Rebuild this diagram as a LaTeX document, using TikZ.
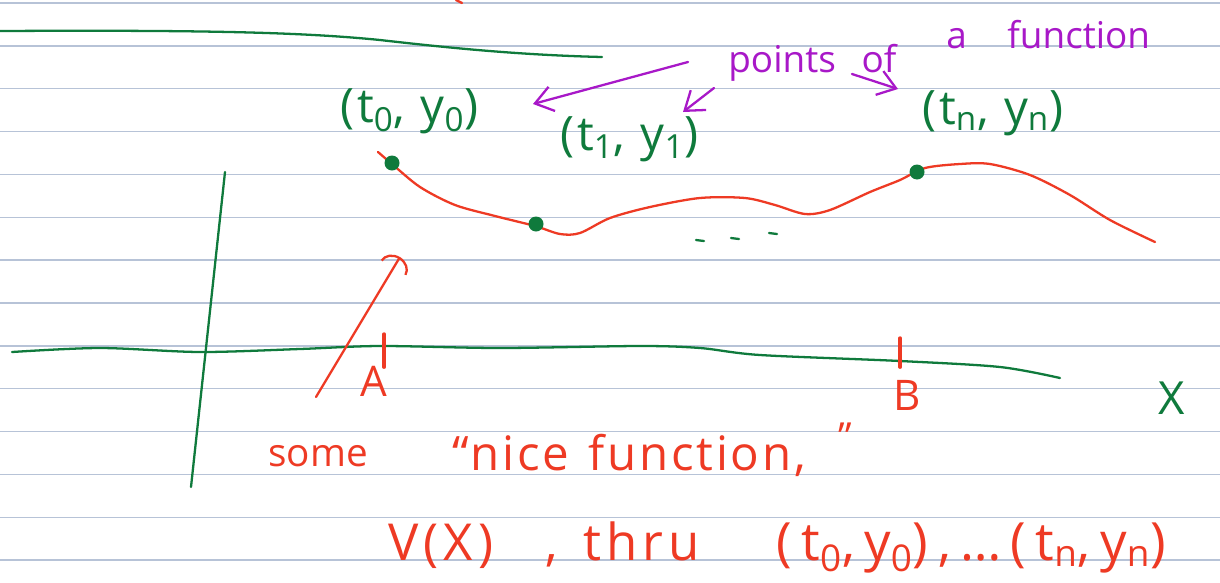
\documentclass[tikz,border=0pt]{standalone}
\usepackage{fontspec}
\setmainfont{Open Sans}
\usetikzlibrary{arrows.meta}
\definecolor{penGreen}{HTML}{0F7A3C}
\definecolor{penRed}{HTML}{EE3A24}
\definecolor{penPurple}{HTML}{A818C8}
\definecolor{ruling}{HTML}{B7C3D7}
\tikzset{
  hand/.style={inner sep=0pt, anchor=base west},
  stroke/.style={line width=1.3pt, line cap=round, line join=round},
}
\begin{document}
\begin{tikzpicture}[x=0.02cm, y={(0cm,-0.02cm)},
  gtxt/.style={hand, text=penGreen, font=\fontsize{27}{30}\selectfont\addfontfeature{LetterSpace=6}},
  ptxt/.style={hand, text=penPurple, font=\fontsize{21}{24}\selectfont},
  rtxt/.style={hand, text=penRed, font=\fontsize{22}{26}\selectfont},
  rbig/.style={rtxt, font=\fontsize{29}{32}\selectfont\addfontfeature{LetterSpace=10}},
  gline/.style={stroke, penGreen},
  rline/.style={stroke, penRed},
  parr/.style={stroke, penPurple, -{Straight Barb[length=3.5mm, width=5mm]}},
  dot/.style={circle, fill=penGreen, minimum size=0.3cm, inner sep=0pt}]
\useasboundingbox (0,0) rectangle (1220,582);
\fill[white] (0,0) rectangle (1220,582);
\foreach \k in {0,...,13}
  \draw[ruling, line width=0.8pt] (0,{3+42.85*\k}) -- (1220,{3+42.85*\k});
\draw[rline] (456,0) -- (462,3);
\draw[gline] (0,31) .. controls (200,30) and (300,32) .. (380,40) .. controls (450,48) and (520,55) .. (602,57);
\draw[gline] (225,172) -- (191,487);
\draw[gline] plot[smooth] coordinates {(12,352) (100,348) (200,352) (300,349) (380,346) (500,348) (640,346) (700,348) (760,355) (900,361) (1000,367) (1060,378)};
\draw[rline] plot[smooth] coordinates {(378,152) (392,164) (420,187) (455,205) (495,216) (535,226) (560,234) (580,233) (610,218) (650,207) (700,198) (745,198) (775,205) (805,214) (830,210) (870,192) (900,180) (925,168) (960,164) (990,164) (1030,175) (1070,195) (1110,220) (1155,242)};
\node[dot] (d0) at (392,163) {};
\node[dot] (d1) at (536,224) {};
\node[dot] (dn) at (917,172) {};
\foreach \x/\y in {700/240, 735/238, 773/233}
  \draw[gline] (\x-4,\y) -- (\x+4,\y+1);
\node[gtxt] (p0) at (340,122) {(t\textsubscript{0}, y\textsubscript{0})};
\node[gtxt] (p1) at (560,150) {(t\textsubscript{1}, y\textsubscript{1})};
\node[gtxt] (pn) at (922,124) {(t\textsubscript{n}, y\textsubscript{n})};
\node[ptxt] (pts) at (728,72) {points\hspace{0.7em}of};
\node[ptxt] (fn) at (946,48) {a\hspace{1.1em}function};
\coordinate (a0s) at (688,62);
\coordinate (a0e) at (533,104);
\coordinate (a1s) at (714,88);
\coordinate (a1e) at (683,112);
\coordinate (a2s) at (852,74);
\coordinate (a2e) at (898,89);
\draw[parr] (a0s) -- (a0e);
\draw[parr] (a1s) -- (a1e);
\draw[parr] (a2s) -- (a2e);
\node[rtxt] (tA) at (383,333) {};
\node[rtxt] (tB) at (899,337) {};
\draw[rline, line width=2.2pt] (tA) -- ++(0,34);
\draw[rline, line width=2.2pt] (tB) -- ++(0,30);
\node[rtxt, font=\fontsize{24}{26}\selectfont] (lA) at (360,396) {A};
\node[rtxt, font=\fontsize{24}{26}\selectfont] (lB) at (893,410) {B};
\node[gtxt, font=\fontsize{26}{28}\selectfont] (lX) at (1158,414) {X};
\coordinate (tail) at (316,397);
\coordinate (head) at (400,257);
\draw[rline, -{Arc Barb[length=2.5mm, width=6mm]}] (tail) -- (head);
\node[rtxt] (some) at (268,466) {some};
\node[rtxt, font=\fontsize{27}{30}\selectfont\addfontfeature{LetterSpace=6}] (nice) at (452,470) {“nice\hspace{0.4em}function,};
\node[rtxt] (cq) at (838,450) {”};
\node[rbig] (vx) at (388,560) {V(X)};
\node[rbig] (thru) at (545,560) {,\hspace{0.5em}thru};
\node[rbig, font=\fontsize{30}{32}\selectfont\addfontfeature{LetterSpace=18}] (pair) at (776,560) {(t\textsubscript{0},y\textsubscript{0}),\dots\,(t\textsubscript{n},y\textsubscript{n})};
\end{tikzpicture}
\end{document}
